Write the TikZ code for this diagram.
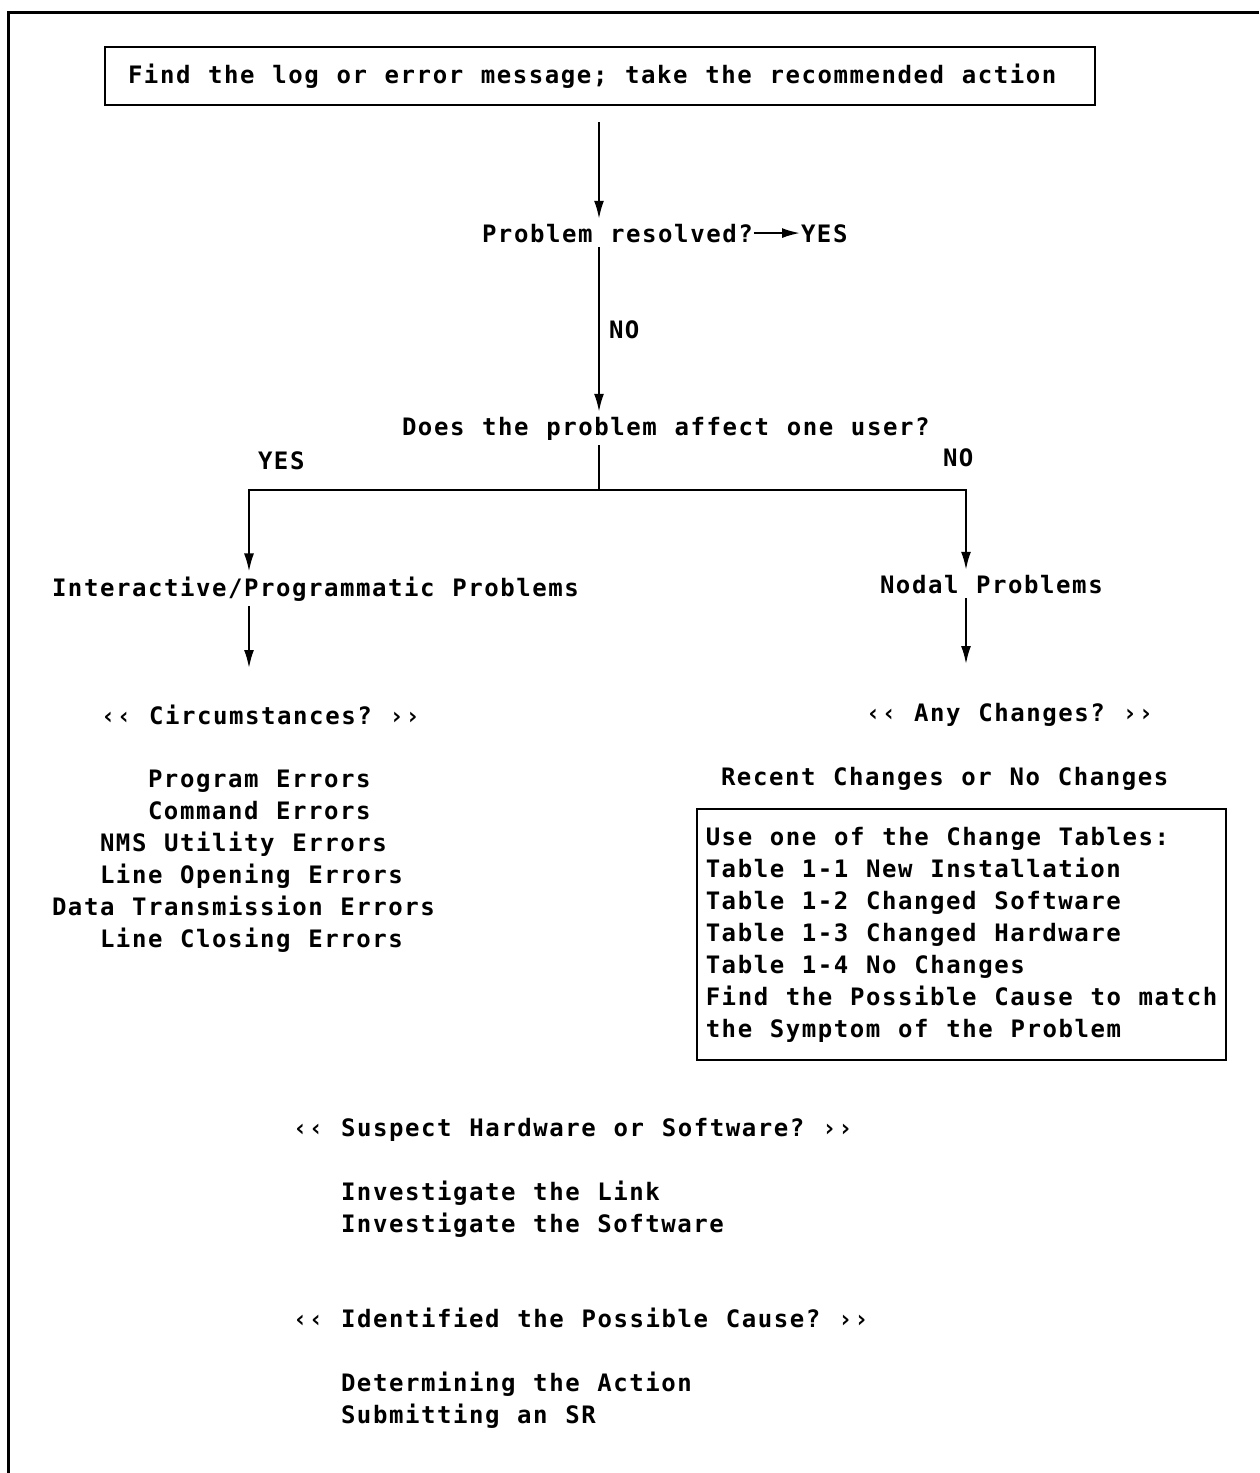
\documentclass[tikz,border=0pt]{standalone}
\usepackage{fontspec}
\setmonofont{DejaVu Sans Mono}[LetterSpace=6.5, WordSpace=1.107]
\usepackage{tikz}
\usetikzlibrary{positioning, arrows.meta}

\begin{document}
\begin{tikzpicture}[
    x=0.5pt, y=-0.5pt, % one unit = one pixel of the scan
    line width=1pt,
    font=\ttfamily\bfseries\fontsize{12pt}{16pt}\selectfont,
    txt/.style={inner xsep=0pt, inner ysep=2pt, anchor=base west},
    framebox/.style={draw, align=left, anchor=north west},
    arr/.style={-{Latex[length=9pt, width=5pt]}}
]
\useasboundingbox (0,0) rectangle (1259,1473);

%%%%% Page frame (left and top edge only)
\draw[line width=1.5pt] (8,1473) -- (8,12) -- (1259,12);

%%%%% Main question chain
\node[framebox, inner xsep=11.5pt, inner ysep=8.5pt] (find) at (104,46)
    {\makebox[472pt][l]{Find the log or error message; take the recommended action}};
\node[txt] (resolved) at (481,242) {Problem resolved?};
\node[txt] (yes1)     at (800,242) {YES};
\node[txt] (no1)      at (608,338) {NO};
\node[txt] (affect)   at (401,435) {Does the problem affect one user?};
\node[txt] (yes2)     at (257,469) {YES};
\node[txt] (no2)      at (942,466) {NO};

% Left branch
\node[txt] (inter) at (51,596)  {Interactive/Programmatic Problems};
\node[txt] (circ)  at (100,724) {‹‹ Circumstances? ››};
\node[txt] (err1)  at (147,787) {Program Errors};
\node[txt] (err2)  at (147,819) {Command Errors};
\node[txt] (err3)  at (99,851)  {NMS Utility Errors};
\node[txt] (err4)  at (99,883)  {Line Opening Errors};
\node[txt] (err5)  at (51,915)  {Data Transmission Errors};
\node[txt] (err6)  at (99,947)  {Line Closing Errors};

% Right branch
\node[txt] (nodal)  at (879,593) {Nodal Problems};
\node[txt] (anych)  at (865,721) {‹‹ Any Changes? ››};
\node[txt] (recent) at (720,785) {Recent Changes or No Changes};
\node[framebox, inner xsep=4pt, inner ysep=9pt, minimum width=264.5pt] (tables) at (696,808)
    {Use one of the Change Tables:\\
     Table 1-1 New Installation\\
     Table 1-2 Changed Software\\
     Table 1-3 Changed Hardware\\
     Table 1-4 No Changes\\
     Find the Possible Cause to match\\
     the Symptom of the Problem};

% Common part
\node[txt] (suspect) at (292,1136) {‹‹ Suspect Hardware or Software? ››};
\node[txt] (link)    at (340,1200) {Investigate the Link};
\node[txt] (soft)    at (340,1232) {Investigate the Software};
\node[txt] (ident)   at (292,1327) {‹‹ Identified the Possible Cause? ››};
\node[txt] (action)  at (340,1391) {Determining the Action};
\node[txt] (sr)      at (340,1423) {Submitting an SR};

%  Branch points
\coordinate (start) at (599,122);
\coordinate (trunk) at (599,490);
\coordinate (lcol)  at (249,490);
\coordinate (rcol)  at (966,490);
\coordinate (lend)  at (249,668);
\coordinate (rend)  at (966,664);

%  Draw arrows between nodes
\draw[arr] (start) -- (start |- resolved.north);
\draw[arr] (resolved.east) -- (resolved.east -| yes1.west);
\draw[arr] (start |- resolved.south) -- (start |- affect.north);
\draw (trunk |- affect.south) -- (trunk);
\draw[arr] (trunk) -- (lcol) -- (lcol |- inter.north);
\draw[arr] (trunk) -- (rcol) -- (rcol |- nodal.north);
\draw[arr] (lcol |- inter.south) -- (lend);
\draw[arr] (rcol |- nodal.south) -- (rend);

\end{tikzpicture}
\end{document}
